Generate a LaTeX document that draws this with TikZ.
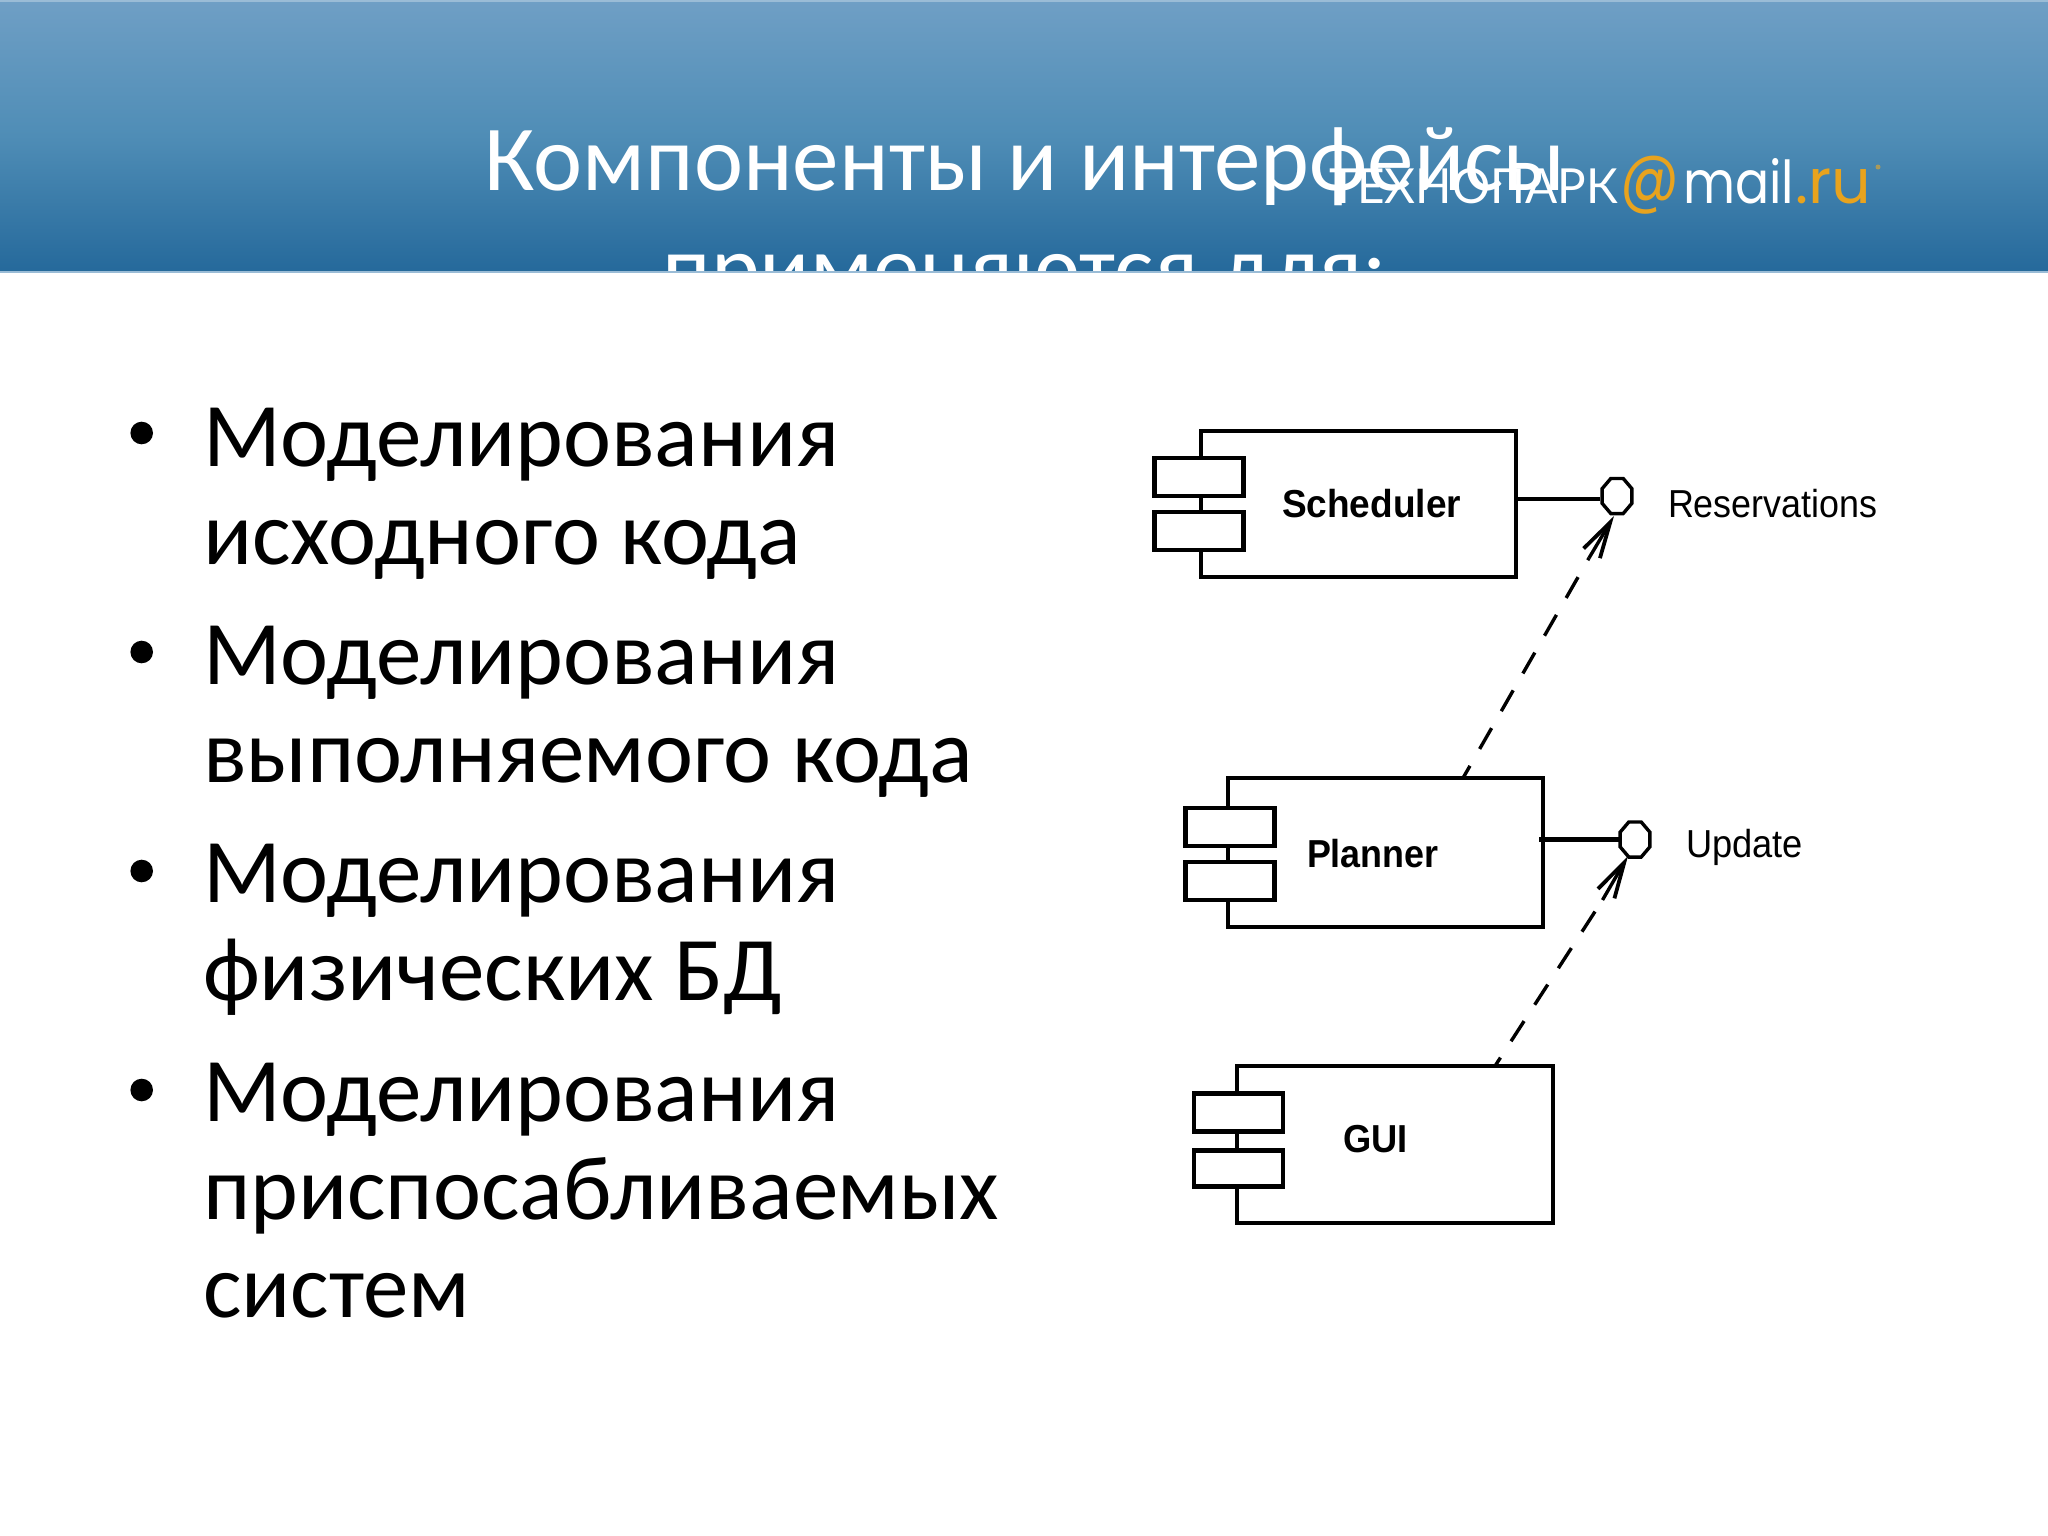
\documentclass[tikz,border=0pt]{standalone}
\usepackage{fontspec}
\usepackage{graphicx}
\usetikzlibrary{arrows.meta,shapes.geometric}
\setmainfont{Carlito}
\newfontfamily\diagfont{Liberation Sans}
\newfontfamily\logocyr{Lato}
\newfontfamily\logolat{Poppins}
\definecolor{hdtop}{HTML}{6F9FC5}
\definecolor{hdmid}{HTML}{4F8DB6}
\definecolor{hdbot}{HTML}{25699B}
\definecolor{logoorange}{HTML}{E8A31E}
\newcommand{\slim}[2][.91]{\scalebox{#1}[1]{#2}}
\tikzset{
  x=1pt,y=-1pt,
  txt/.style={anchor=base west,inner sep=0pt,outer sep=0pt},
  titletext/.style={anchor=base,inner sep=0pt,text=white,font=\fontsize{93}{93}\selectfont},
  bodytext/.style={txt,text=black,font=\fontsize{91}{91}\selectfont},
  bulletdot/.style={circle,fill=black,inner sep=0pt,minimum size=22.6pt},
  comp/.style={draw=black,line width=4pt,fill=white,rectangle,inner sep=0pt,outer sep=0pt},
  tab/.style={comp,line width=4.4pt,minimum width=89pt,minimum height=38pt},
  compname/.style={txt,font=\diagfont\bfseries\fontsize{39}{39}\selectfont},
  ifname/.style={txt,font=\diagfont\fontsize{39}{39}\selectfont},
  iface/.style={draw=black,line width=3.4pt,fill=white,regular polygon,regular polygon sides=8,inner sep=0pt,minimum size=38pt,xscale=.85},
  lolli/.style={draw=black,line width=4.4pt},
  depline/.style={draw=black,line width=3.4pt,dash pattern=on 24pt off 19.5pt},
  dephead/.style={draw=black,line width=3.4pt,-{Straight Barb[length=36pt,width=19pt,line width=3.8pt]}},
}
\begin{document}
\begin{tikzpicture}
\useasboundingbox (0,0) rectangle (2048,1536);
\fill[white] (0,0) rectangle (2048,1536);
% header
\shade[top color=hdtop,bottom color=hdbot,middle color=hdmid] (0,0) rectangle (2048,272);
\fill[hdtop!70!white] (0,0) rectangle (2048,2);
\node[titletext] (title2) at (1025,299) {применяются для:};
\fill[white] (0,272) rectangle (2048,1536);
\fill[hdtop!70!white] (0,271) rectangle (2048,273);
% logo
\node[txt,text=white] (logoa) at (1329,203) {\resizebox{289pt}{35pt}{\logocyr ТЕХНОПАРК}};
\node[txt,text=logoorange,font=\logolat\fontsize{66}{66}\selectfont] (logob) at (1620,200) {\scalebox{.88}[1.05]{@}};
\node[txt,text=white] (logoc) at (1683,203) {\resizebox{111pt}{45pt}{\logolat mail}};
\node[txt,text=logoorange,font=\logolat\fontsize{62}{62}\selectfont] (logod) at (1795,203) {.ru};
\node[circle,fill=logoorange!60!hdmid,inner sep=0pt,minimum size=5pt] (logoe) at (1878,167) {};
\node[titletext] (title1) at (1025,190) {Компоненты и интерфейсы};
% bullets and body
\node[bulletdot] (b1) at (141.7,433) {};
\node[bulletdot] (b2) at (141.7,652) {};
\node[bulletdot] (b3) at (141.7,871) {};
\node[bulletdot] (b4) at (141.7,1090) {};
\node[bodytext] (t1) at (203,466) {Моделирования};
\node[bodytext] (t2) at (203,564) {исходного кода};
\node[bodytext] (t3) at (203,684) {Моделирования};
\node[bodytext] (t4) at (203,782) {выполняемого кода};
\node[bodytext] (t5) at (203,902) {Моделирования};
\node[bodytext] (t6) at (203,1000) {физических БД};
\node[bodytext] (t7) at (203,1121) {Моделирования};
\node[bodytext] (t8) at (203,1219) {приспосабливаемых};
\node[bodytext] (t9) at (203,1317) {систем};
% components
\node[comp,minimum width=315.5pt,minimum height=146pt] (sch) at (1358.25,504) {};
\node[tab] (sch1) at (1199,477) {};
\node[tab] (sch2) at (1199,531) {};
\node[compname] (schn) at (1282,517) {\slim[.95]{Scheduler}};
\node[comp,minimum width=315.5pt,minimum height=149pt] (pln) at (1385.25,852.5) {};
\node[tab] (pln1) at (1230,827) {};
\node[tab] (pln2) at (1230,881) {};
\node[compname] (plnn) at (1307,867) {\slim[.92]{Planner}};
\node[comp,minimum width=315.5pt,minimum height=157pt] (gui) at (1394.75,1144.5) {};
\node[tab] (gui1) at (1238.5,1112.5) {};
\node[tab,minimum height=36pt] (gui2) at (1238.5,1168.5) {};
\node[compname] (guin) at (1343,1152) {\slim[.93]{GUI}};
% interfaces
\node[iface] (res) at (1617,496) {};
\node[iface] (upd) at (1635,839.5) {};
\node[ifname] (resn) at (1668,517) {\slim[.92]{Reservations}};
\node[ifname] (updn) at (1686,857) {\slim[.93]{Update}};
\coordinate (rstart) at (1516,499);
\coordinate (rend) at (1600,499);
\draw[lolli] (rstart) -- (rend);
\coordinate (pstart) at (1539,839.5);
\coordinate (pend) at (1620,839.5);
\draw[lolli] (pstart) -- (pend);
% dependencies
\coordinate (d1s) at (1463,778);
\coordinate (d1h) at (1589,558);
\coordinate (d1t) at (1614,516);
\coordinate (d2s) at (1495,1066);
\coordinate (d2h) at (1602.5,900);
\coordinate (d2t) at (1628,856);
\path[depline,dash phase=10pt] (d1s) -- (d1h);
\draw[dephead] (d1h) -- (d1t);
\path[depline,dash phase=14pt] (d2s) -- (d2h);
\draw[dephead] (d2h) -- (d2t);
\end{tikzpicture}
\end{document}
